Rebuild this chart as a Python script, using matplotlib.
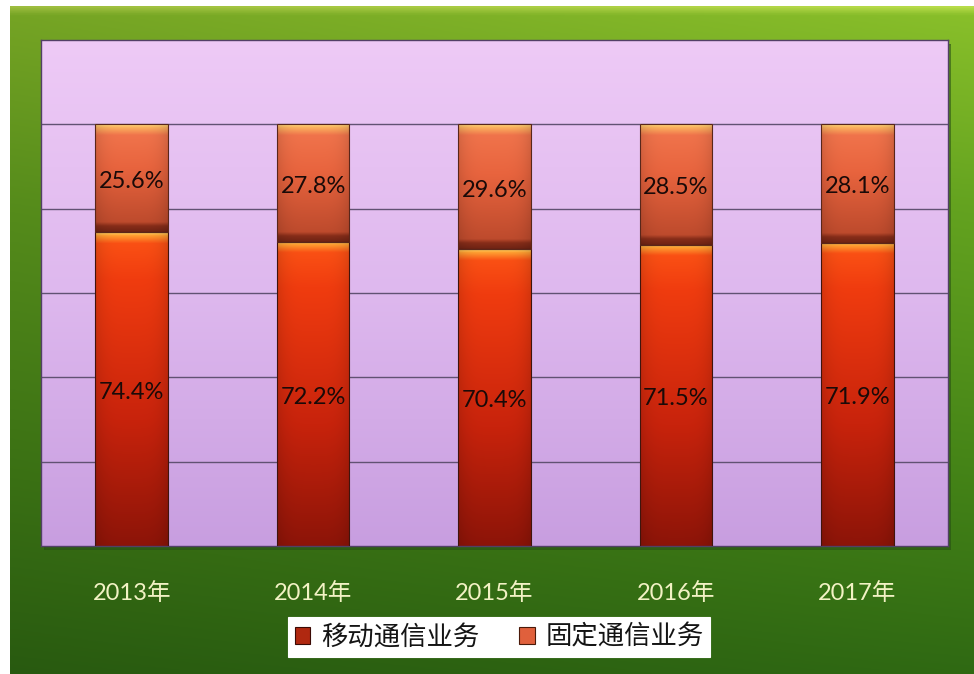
import numpy as np
import matplotlib
matplotlib.use('Agg')
import matplotlib.pyplot as plt
from matplotlib.patches import Rectangle

plt.rcParams['font.family'] = ['Lato', 'Noto Sans CJK SC', 'DejaVu Sans']

# data
years = ['2013年', '2014年', '2015年', '2016年', '2017年']
mobile = [74.4, 72.2, 70.4, 71.5, 71.9]
fixed = [25.6, 27.8, 29.6, 28.5, 28.1]
series_names = ['移动通信业务', '固定通信业务']

W, H = 974, 674
fig = plt.figure(figsize=(W / 100, H / 100), dpi=100)
fig.patch.set_facecolor('white')


def vgrad(stops, n=300):
    """vertical gradient, stops = [(pos, (r,g,b)), ...] top->bottom, pos 0..1"""
    pos = np.array([s[0] for s in stops])
    cols = np.array([s[1] for s in stops], dtype=float) / 255.0
    t = np.linspace(0, 1, n)
    out = np.stack([np.interp(t, pos, cols[:, k]) for k in range(3)], axis=1)
    return out[:, None, :]


# green background
bg = fig.add_axes([10 / W, 0, 1 - 10 / W, 1 - 6 / H], zorder=-2)
bg.axis('off')
g = vgrad([(0, (175, 210, 70)), (0.012, (130, 182, 40)), (0.3, (95, 155, 30)),
           (0.7, (65, 125, 22)), (1, (45, 100, 18))])
side = np.linspace(0.9, 1.05, 200)[None, :, None]
bg.imshow(np.clip(g * side, 0, 1), aspect='auto', extent=[0, 1, 0, 1])
bg.set_xlim(0, 1)
bg.set_ylim(0, 1)

# plot area shadow
sh = fig.add_axes([44 / W, (H - 550) / H, 907 / W, 506 / H], zorder=-1)
sh.axis('off')
sh.add_patch(Rectangle((0, 0), 1, 1, transform=sh.transAxes, color=(0.15, 0.3, 0.08), alpha=0.5))

ax = fig.add_axes([41 / W, (H - 546) / H, 907 / W, 506 / H])
x = np.arange(len(years))
ax.set_xlim(-0.5, len(years) - 0.5)
ax.set_ylim(0, 120)

# plot area gradient
pa = vgrad([(0, (238, 202, 246)), (0.5, (222, 184, 238)), (1, (200, 158, 224))])
ax.imshow(pa, aspect='auto', extent=[-0.5, len(years) - 0.5, 0, 120], zorder=0)
for yv in [20, 40, 60, 80, 100]:
    ax.axhline(yv, color=(0.38, 0.32, 0.45), lw=1.0, zorder=1)

width = 0.4
b1 = ax.bar(x, mobile, width, color='none', edgecolor=(0.25, 0.08, 0.05), lw=0.8, zorder=3)
b2 = ax.bar(x, fixed, width, bottom=mobile, color='none', edgecolor=(0.35, 0.15, 0.1), lw=0.8, zorder=3)

px_per_unit = 506 / 120.0


def bar_fill(patch, stops_fn):
    x0, y0 = patch.get_x(), patch.get_y()
    w, h = patch.get_width(), patch.get_height()
    hpx = h * px_per_unit
    g = vgrad(stops_fn(hpx), n=400)
    xs = np.linspace(-1, 1, 80)
    shade = (1 - 0.12 * xs ** 4)[None, :, None]
    img = np.clip(g * shade, 0, 1)
    im = ax.imshow(img, aspect='auto', extent=[x0, x0 + w, y0, y0 + h], zorder=2)
    im.set_clip_path(patch)


def mobile_stops(hpx):
    a = 3 / hpx
    b = 11 / hpx
    return [(0, (255, 210, 100)), (a, (255, 160, 50)), (b, (250, 80, 20)),
            (0.15, (240, 60, 15)), (0.6, (200, 35, 12)), (1, (140, 20, 8))]


def fixed_stops(hpx):
    a = 3 / hpx
    b = 11 / hpx
    c = 1 - 10 / hpx
    return [(0, (255, 220, 125)), (a, (252, 180, 95)), (b, (240, 115, 75)),
            (0.4, (232, 100, 62)), (c, (190, 75, 45)), (c + 4 / hpx, (135, 45, 25)),
            (1, (110, 35, 20))]


for p in b1:
    bar_fill(p, mobile_stops)
for p in b2:
    bar_fill(p, fixed_stops)

for i in range(len(years)):
    ax.text(x[i], mobile[i] / 2 - 0.8, f'{mobile[i]:.1f}%', ha='center', va='center',
            fontsize=17, color='#1a0a08', zorder=5)
    ax.text(x[i], mobile[i] + fixed[i] / 2 - 0.8, f'{fixed[i]:.1f}%', ha='center', va='center',
            fontsize=17, color='#1a0a08', zorder=5)

ax.set_yticks([])
ax.set_xticks(x, years)
ax.tick_params(axis='x', length=0, pad=26, labelsize=17, labelcolor='#f2f2c4')
for s in ax.spines.values():
    s.set_color((0.32, 0.25, 0.4))
    s.set_linewidth(1.0)

# legend
handles = [Rectangle((0, 0), 1, 1, facecolor='#b02810', edgecolor='#3a0a05', lw=0.8),
           Rectangle((0, 0), 1, 1, facecolor='#e0603c', edgecolor='#4a1a0a', lw=0.8)]
leg = fig.legend(handles, series_names, loc='center', bbox_to_anchor=(499 / W, 1 - 637 / H),
                 ncol=2, frameon=True, fancybox=False, framealpha=1,
                 prop={'family': ['Noto Sans CJK SC'], 'size': 19},
                 handlelength=0.6, handleheight=0.6, handletextpad=0.4, columnspacing=1.5,
                 borderpad=0.25, borderaxespad=0)
leg.get_frame().set_facecolor('white')
leg.get_frame().set_edgecolor('white')
leg.get_frame().set_linewidth(0.8)
for t in leg.get_texts():
    t.set_color('#141414')

fig.savefig('out.png', dpi=100)
